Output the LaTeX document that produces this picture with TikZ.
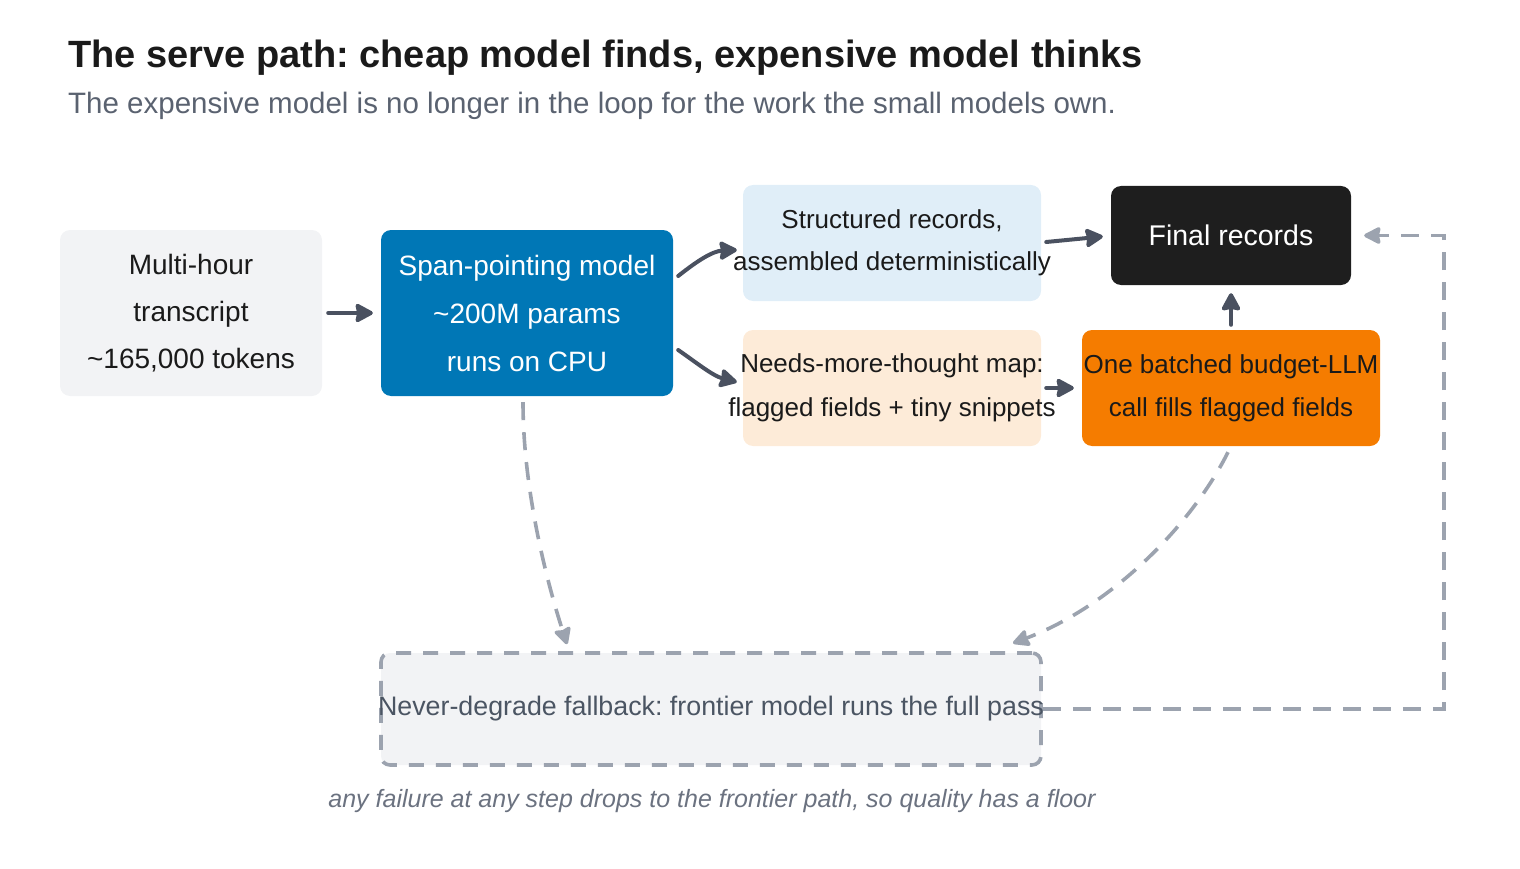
\documentclass[tikz,border=0pt]{standalone}
\usepackage{fontspec}
\setmainfont{Liberation Sans}
\usetikzlibrary{arrows.meta,calc}
\definecolor{gbox}{HTML}{F2F3F5}
\definecolor{bluebox}{HTML}{0077B6}
\definecolor{lightblue}{HTML}{E0EEF8}
\definecolor{peach}{HTML}{FDEBD8}
\definecolor{orangebox}{HTML}{F57C00}
\definecolor{blackbox}{HTML}{1E1E1E}
\definecolor{arrowc}{HTML}{4A5160}
\definecolor{dashc}{HTML}{9CA3AF}
\definecolor{subc}{HTML}{5A6270}
\definecolor{footc}{HTML}{6B7280}
\definecolor{fallc}{HTML}{4B5563}
\definecolor{titlec}{HTML}{1A1A1A}
\newcommand\myfs[2]{\fontsize{#1}{#2}\selectfont}
\frenchspacing
\begin{document}
\begin{tikzpicture}[x=1pt,y=-1pt,
  box/.style={rectangle, rounded corners=10pt, inner sep=0pt, draw=none},
  txt/.style={inner sep=0pt, align=center},
  arr/.style={draw=arrowc, line width=4pt, line cap=round, -{Stealth[length=20pt,width=21pt,inset=2pt,round]}},
  dsh/.style={draw=dashc, line width=3.6pt, dash pattern=on 18pt off 12pt},
  dsharr/.style={dsh, -{Stealth[length=19pt,width=19pt,inset=2pt,round]}}
]
\useasboundingbox (0,0) rectangle (1520,869);

\node[anchor=base west, inner sep=0pt, font=\myfs{38}{42}\bfseries, text=titlec] (title) at (68,67.5)
  {The serve path: cheap model finds, expensive model thinks};
\node[anchor=base west, inner sep=0pt, font=\myfs{29.5}{34}, text=subc] (sub) at (68,114)
  {The expensive model is no longer in the loop for the work the small models own.};

% boxes
\node[box, fill=gbox, minimum width=262pt, minimum height=166pt] (src) at (191,313) {};
\node[txt, font=\myfs{28}{47}, text=titlec] at (src) {Multi-hour\\transcript\\\textasciitilde165,000 tokens};

\node[box, fill=bluebox, minimum width=292pt, minimum height=166pt] (span) at (527,313) {};
\node[txt, font=\myfs{28}{48}, text=white] at (span) {Span-pointing model\\\textasciitilde200M params\\runs on CPU};

\node[box, fill=lightblue, minimum width=298pt, minimum height=116pt] (struct) at (892,243) {};
\node[txt, font=\myfs{26}{42}, text=titlec] at (struct) {Structured records,\\assembled deterministically};

\node[box, fill=blackbox, minimum width=240pt, minimum height=99pt] (final) at (1231,235.5) {};
\node[txt, font=\myfs{28.5}{34}, text=white] at (final) {Final records};

\node[box, fill=peach, minimum width=298pt, minimum height=116pt] (needs) at (892,388) {};
\node[txt, font=\myfs{26}{44}, text=titlec] at (needs) {Needs-more-thought map:\\flagged fields + tiny snippets};

\node[box, fill=orangebox, minimum width=298pt, minimum height=116pt] (one) at (1231,388) {};
\node[txt, font=\myfs{26}{43}, text=titlec] at (one) {One batched budget-LLM\\call fills flagged fields};

\node[box, fill=gbox, draw=dashc, line width=3.6pt, dash pattern=on 15pt off 12pt, rounded corners=9pt,
  minimum width=660pt, minimum height=112pt] (never) at (711,709) {};
\node[txt, font=\myfs{26.8}{32}, text=fallc] at (never) {Never-degrade fallback: frontier model runs the full pass};

\node[anchor=base, inner sep=0pt, font=\myfs{25}{28}\itshape, text=footc] (foot) at (712,807)
  {any failure at any step drops to the frontier path, so quality has a floor};

% solid arrows
\draw[arr] ($(src.east)+(6,0)$) -- ($(span.west)+(-8,0)$);
\draw[arr] ($(span.east)+(5,-37)$) .. controls ($(span.east)+(25,-53)$) and ($(span.east)+(40,-62)$) .. ($(struct.west)+(-6,7)$);
\draw[arr] ($(span.east)+(5,37)$) .. controls ($(span.east)+(25,51)$) and ($(span.east)+(40,63)$) .. ($(needs.west)+(-6,-6)$);
\draw[arr] ($(struct.east)+(5,-1)$) -- ($(final.west)+(-8,1)$);
\draw[arr] ($(needs.east)+(5,0)$) -- ($(one.west)+(-8,0)$);
\draw[arr] ($(one.north)+(0,-5)$) -- ($(final.south)+(0,8)$);

% dashed arrows
\draw[dsharr] ($(span.south)+(-4,6)$) .. controls ($(span.south)+(-4,90)$) and ($(span.south)+(18,180)$) .. ($(never.north)+(-144,-7)$);
\draw[dsharr] ($(one.south)+(-3,6)$) .. controls ($(one.south)+(-40,80)$) and ($(one.south)+(-120,160)$) .. ($(never.north)+(302,-8)$);
\coordinate (corner) at (1444,709);
\draw[dsharr] (never.east) -- (never.east -| corner) -- (corner |- final.east) -- ($(final.east)+(13,0)$);
\end{tikzpicture}
\end{document}
